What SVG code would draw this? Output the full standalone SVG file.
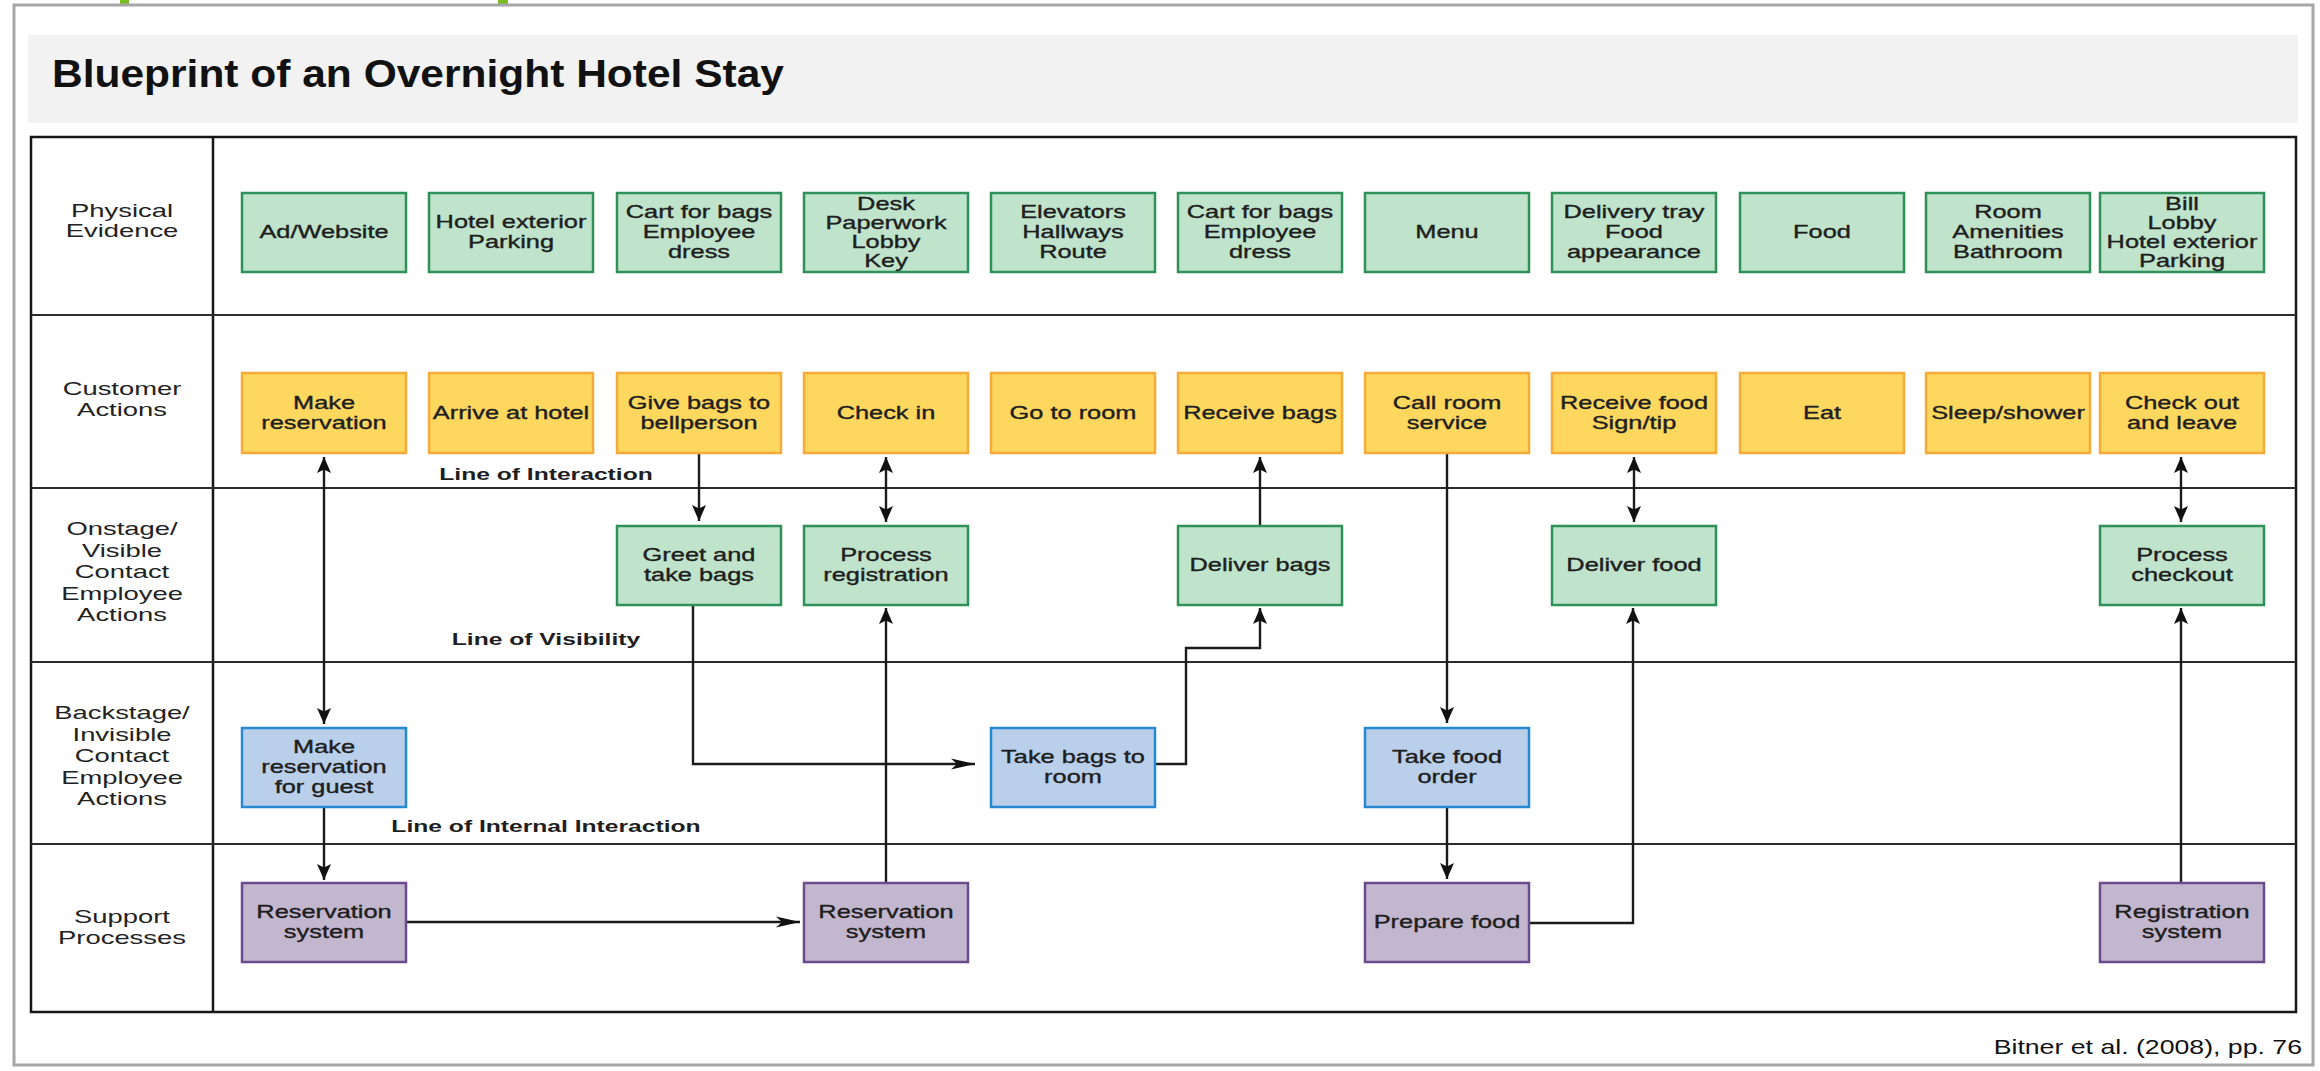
<svg xmlns="http://www.w3.org/2000/svg" width="2320" height="1071" viewBox="0 0 2320 1071">
  <style>
    .frame { fill: #ffffff; stroke: #a6a6a6; stroke-width: 3; }
    .band { fill: #f2f2f2; }
    .mark { fill: #78be20; }
    .grid { fill: none; stroke: #161616; stroke-width: 2.5; }
    .row { stroke: #2b2b2b; stroke-width: 2; }
    .n rect { stroke-width: 2.5; }
    .g rect { fill: #bfe3cb; stroke: #2e9158; }
    .y rect { fill: #fed75e; stroke: #f7a93a; }
    .b rect { fill: #b9cfea; stroke: #2689d2; }
    .p rect { fill: #c3b7cf; stroke: #6b4b8c; }
    text { font-family: "Liberation Sans", Arial, Helvetica, sans-serif; }
    .t { font-size: 17.5px; fill: #1e1e1e; stroke: #1e1e1e; stroke-width: 0.35; text-anchor: middle; }
    .lane { font-size: 18.5px; fill: #222222; text-anchor: middle; }
    .ll { font-size: 17px; font-weight: bold; fill: #1e1e1e; text-anchor: middle; }
    .title { font-size: 39px; font-weight: bold; fill: #111111; }
    .src { font-size: 21px; fill: #111111; text-anchor: end; }
    .conn path { fill: none; stroke: #1a1a1a; stroke-width: 2.4; }
  </style>
  <defs>
    <!-- arrowhead for vertical runs -->
    <marker id="av" viewBox="-17 -8 18 16" refX="0" refY="0" markerWidth="18" markerHeight="16" markerUnits="userSpaceOnUse" orient="auto-start-reverse">
      <path d="M0,0 L-16,-7 L-12.5,0 L-16,7 Z" fill="#111111"/>
    </marker>
    <!-- arrowhead for horizontal runs -->
    <marker id="ah" viewBox="-25 -7 26 14" refX="0" refY="0" markerWidth="26" markerHeight="14" markerUnits="userSpaceOnUse" orient="auto">
      <path d="M0,0 L-24,-5.5 L-18,0 L-24,5.5 Z" fill="#111111"/>
    </marker>
  </defs>

  <rect width="2320" height="1071" fill="#ffffff"/>
  <rect class="mark" x="120" y="0" width="9" height="5"/>
  <rect class="mark" x="498" y="0" width="10" height="5"/>
  <rect class="frame" x="14" y="5" width="2299" height="1060"/>

  <!-- title band -->
  <rect class="band" x="28" y="35" width="2270" height="88"/>
  <text class="title" transform="matrix(1.09 0 0 1 52 0)" x="0" y="87">Blueprint of an Overnight Hotel Stay</text>

  <!-- swimlane grid -->
  <g id="grid">
    <rect class="grid" x="31" y="137" width="2265" height="875"/>
    <line class="grid" x1="213" y1="137" x2="213" y2="1012"/>
    <line class="row" x1="31" y1="315" x2="2296" y2="315"/>
    <line class="row" x1="31" y1="488" x2="2296" y2="488"/>
    <line class="row" x1="31" y1="662" x2="2296" y2="662"/>
    <line class="row" x1="31" y1="844" x2="2296" y2="844"/>
  </g>

  <!-- lane labels -->
  <g id="lanes">
    <text class="lane" transform="matrix(1.48 0 0 1 122 0)"><tspan x="0" y="217">Physical</tspan><tspan x="0" y="237">Evidence</tspan></text>
    <text class="lane" transform="matrix(1.48 0 0 1 122 0)"><tspan x="0" y="395">Customer</tspan><tspan x="0" y="416">Actions</tspan></text>
    <text class="lane" transform="matrix(1.48 0 0 1 122 0)"><tspan x="0" y="535">Onstage/</tspan><tspan x="0" y="557">Visible</tspan><tspan x="0" y="578">Contact</tspan><tspan x="0" y="600">Employee</tspan><tspan x="0" y="621">Actions</tspan></text>
    <text class="lane" transform="matrix(1.48 0 0 1 122 0)"><tspan x="0" y="719">Backstage/</tspan><tspan x="0" y="741">Invisible</tspan><tspan x="0" y="762">Contact</tspan><tspan x="0" y="784">Employee</tspan><tspan x="0" y="805">Actions</tspan></text>
    <text class="lane" transform="matrix(1.48 0 0 1 122 0)"><tspan x="0" y="923">Support</tspan><tspan x="0" y="944">Processes</tspan></text>
  </g>

  <!-- boundary line labels -->
  <g id="boundaries">
    <text class="ll" transform="matrix(1.45 0 0 1 546 0)" x="0" y="480">Line of Interaction</text>
    <text class="ll" transform="matrix(1.45 0 0 1 546 0)" x="0" y="645">Line of Visibility</text>
    <text class="ll" transform="matrix(1.45 0 0 1 546 0)" x="0" y="832">Line of Internal Interaction</text>
  </g>

  <!-- connectors -->
  <g id="connectors" class="conn">
    <path d="M324,457 L324,724" marker-start="url(#av)" marker-end="url(#av)"/>
    <path d="M324,807 L324,880" marker-end="url(#av)"/>
    <path d="M407,922 L800,922" marker-end="url(#ah)"/>
    <path d="M886,883 L886,608" marker-end="url(#av)"/>
    <path d="M886,457 L886,522" marker-start="url(#av)" marker-end="url(#av)"/>
    <path d="M699,453 L699,521" marker-end="url(#av)"/>
    <path d="M693,605 L693,764 L975,764" marker-end="url(#ah)"/>
    <path d="M1155,764 L1186,764 L1186,648 L1260,648 L1260,608" marker-end="url(#av)"/>
    <path d="M1260,526 L1260,457" marker-end="url(#av)"/>
    <path d="M1447,453 L1447,723" marker-end="url(#av)"/>
    <path d="M1447,807 L1447,879" marker-end="url(#av)"/>
    <path d="M1529,923 L1633,923 L1633,608" marker-end="url(#av)"/>
    <path d="M1634,457 L1634,522" marker-start="url(#av)" marker-end="url(#av)"/>
    <path d="M2181,457 L2181,522" marker-start="url(#av)" marker-end="url(#av)"/>
    <path d="M2181,883 L2181,608" marker-end="url(#av)"/>
  </g>

  <!-- physical evidence -->
  <g id="pe-ad" class="n g"><rect x="242" y="193" width="164" height="79"/><text class="t" transform="matrix(1.45 0 0 1 324 0)"><tspan x="0" y="238.5">Ad/Website</tspan></text></g>
  <g id="pe-exterior" class="n g"><rect x="429" y="193" width="164" height="79"/><text class="t" transform="matrix(1.45 0 0 1 511 0)"><tspan x="0" y="228.5">Hotel exterior</tspan><tspan x="0" y="248.5">Parking</tspan></text></g>
  <g id="pe-cart1" class="n g"><rect x="617" y="193" width="164" height="79"/><text class="t" transform="matrix(1.45 0 0 1 699 0)"><tspan x="0" y="218.5">Cart for bags</tspan><tspan x="0" y="238.5">Employee</tspan><tspan x="0" y="258.5">dress</tspan></text></g>
  <g id="pe-desk" class="n g"><rect x="804" y="193" width="164" height="79"/><text class="t" transform="matrix(1.45 0 0 1 886 0)"><tspan x="0" y="210">Desk</tspan><tspan x="0" y="229">Paperwork</tspan><tspan x="0" y="248">Lobby</tspan><tspan x="0" y="267">Key</tspan></text></g>
  <g id="pe-elevators" class="n g"><rect x="991" y="193" width="164" height="79"/><text class="t" transform="matrix(1.45 0 0 1 1073 0)"><tspan x="0" y="218.5">Elevators</tspan><tspan x="0" y="238.5">Hallways</tspan><tspan x="0" y="258.5">Route</tspan></text></g>
  <g id="pe-cart2" class="n g"><rect x="1178" y="193" width="164" height="79"/><text class="t" transform="matrix(1.45 0 0 1 1260 0)"><tspan x="0" y="218.5">Cart for bags</tspan><tspan x="0" y="238.5">Employee</tspan><tspan x="0" y="258.5">dress</tspan></text></g>
  <g id="pe-menu" class="n g"><rect x="1365" y="193" width="164" height="79"/><text class="t" transform="matrix(1.45 0 0 1 1447 0)"><tspan x="0" y="238.5">Menu</tspan></text></g>
  <g id="pe-tray" class="n g"><rect x="1552" y="193" width="164" height="79"/><text class="t" transform="matrix(1.45 0 0 1 1634 0)"><tspan x="0" y="218.5">Delivery tray</tspan><tspan x="0" y="238.5">Food</tspan><tspan x="0" y="258.5">appearance</tspan></text></g>
  <g id="pe-food" class="n g"><rect x="1740" y="193" width="164" height="79"/><text class="t" transform="matrix(1.45 0 0 1 1822 0)"><tspan x="0" y="238.5">Food</tspan></text></g>
  <g id="pe-room" class="n g"><rect x="1926" y="193" width="164" height="79"/><text class="t" transform="matrix(1.45 0 0 1 2008 0)"><tspan x="0" y="218.5">Room</tspan><tspan x="0" y="238.5">Amenities</tspan><tspan x="0" y="258.5">Bathroom</tspan></text></g>
  <g id="pe-bill" class="n g"><rect x="2100" y="193" width="164" height="79"/><text class="t" transform="matrix(1.45 0 0 1 2182 0)"><tspan x="0" y="210">Bill</tspan><tspan x="0" y="229">Lobby</tspan><tspan x="0" y="248">Hotel exterior</tspan><tspan x="0" y="267">Parking</tspan></text></g>

  <!-- customer actions -->
  <g id="ca-reserve" class="n y"><rect x="242" y="373" width="164" height="80"/><text class="t" transform="matrix(1.45 0 0 1 324 0)"><tspan x="0" y="409">Make</tspan><tspan x="0" y="429">reservation</tspan></text></g>
  <g id="ca-arrive" class="n y"><rect x="429" y="373" width="164" height="80"/><text class="t" transform="matrix(1.45 0 0 1 511 0)"><tspan x="0" y="419">Arrive at hotel</tspan></text></g>
  <g id="ca-givebags" class="n y"><rect x="617" y="373" width="164" height="80"/><text class="t" transform="matrix(1.45 0 0 1 699 0)"><tspan x="0" y="409">Give bags to</tspan><tspan x="0" y="429">bellperson</tspan></text></g>
  <g id="ca-checkin" class="n y"><rect x="804" y="373" width="164" height="80"/><text class="t" transform="matrix(1.45 0 0 1 886 0)"><tspan x="0" y="419">Check in</tspan></text></g>
  <g id="ca-goroom" class="n y"><rect x="991" y="373" width="164" height="80"/><text class="t" transform="matrix(1.45 0 0 1 1073 0)"><tspan x="0" y="419">Go to room</tspan></text></g>
  <g id="ca-receivebags" class="n y"><rect x="1178" y="373" width="164" height="80"/><text class="t" transform="matrix(1.45 0 0 1 1260 0)"><tspan x="0" y="419">Receive bags</tspan></text></g>
  <g id="ca-callservice" class="n y"><rect x="1365" y="373" width="164" height="80"/><text class="t" transform="matrix(1.45 0 0 1 1447 0)"><tspan x="0" y="409">Call room</tspan><tspan x="0" y="429">service</tspan></text></g>
  <g id="ca-receivefood" class="n y"><rect x="1552" y="373" width="164" height="80"/><text class="t" transform="matrix(1.45 0 0 1 1634 0)"><tspan x="0" y="409">Receive food</tspan><tspan x="0" y="429">Sign/tip</tspan></text></g>
  <g id="ca-eat" class="n y"><rect x="1740" y="373" width="164" height="80"/><text class="t" transform="matrix(1.45 0 0 1 1822 0)"><tspan x="0" y="419">Eat</tspan></text></g>
  <g id="ca-sleep" class="n y"><rect x="1926" y="373" width="164" height="80"/><text class="t" transform="matrix(1.45 0 0 1 2008 0)"><tspan x="0" y="419">Sleep/shower</tspan></text></g>
  <g id="ca-checkout" class="n y"><rect x="2100" y="373" width="164" height="80"/><text class="t" transform="matrix(1.45 0 0 1 2182 0)"><tspan x="0" y="409">Check out</tspan><tspan x="0" y="429">and leave</tspan></text></g>

  <!-- onstage contact employee actions -->
  <g id="on-greet" class="n g"><rect x="617" y="526" width="164" height="79"/><text class="t" transform="matrix(1.45 0 0 1 699 0)"><tspan x="0" y="561.5">Greet and</tspan><tspan x="0" y="581.5">take bags</tspan></text></g>
  <g id="on-registration" class="n g"><rect x="804" y="526" width="164" height="79"/><text class="t" transform="matrix(1.45 0 0 1 886 0)"><tspan x="0" y="561.5">Process</tspan><tspan x="0" y="581.5">registration</tspan></text></g>
  <g id="on-deliverbags" class="n g"><rect x="1178" y="526" width="164" height="79"/><text class="t" transform="matrix(1.45 0 0 1 1260 0)"><tspan x="0" y="571.5">Deliver bags</tspan></text></g>
  <g id="on-deliverfood" class="n g"><rect x="1552" y="526" width="164" height="79"/><text class="t" transform="matrix(1.45 0 0 1 1634 0)"><tspan x="0" y="571.5">Deliver food</tspan></text></g>
  <g id="on-checkout" class="n g"><rect x="2100" y="526" width="164" height="79"/><text class="t" transform="matrix(1.45 0 0 1 2182 0)"><tspan x="0" y="561.5">Process</tspan><tspan x="0" y="581.5">checkout</tspan></text></g>

  <!-- backstage contact employee actions -->
  <g id="bk-reserve" class="n b"><rect x="242" y="728" width="164" height="79"/><text class="t" transform="matrix(1.45 0 0 1 324 0)"><tspan x="0" y="753.5">Make</tspan><tspan x="0" y="773.5">reservation</tspan><tspan x="0" y="793.5">for guest</tspan></text></g>
  <g id="bk-takebags" class="n b"><rect x="991" y="728" width="164" height="79"/><text class="t" transform="matrix(1.45 0 0 1 1073 0)"><tspan x="0" y="763.5">Take bags to</tspan><tspan x="0" y="783.5">room</tspan></text></g>
  <g id="bk-foodorder" class="n b"><rect x="1365" y="728" width="164" height="79"/><text class="t" transform="matrix(1.45 0 0 1 1447 0)"><tspan x="0" y="763.5">Take food</tspan><tspan x="0" y="783.5">order</tspan></text></g>

  <!-- support processes -->
  <g id="sp-reservation1" class="n p"><rect x="242" y="883" width="164" height="79"/><text class="t" transform="matrix(1.45 0 0 1 324 0)"><tspan x="0" y="918.5">Reservation</tspan><tspan x="0" y="938.5">system</tspan></text></g>
  <g id="sp-reservation2" class="n p"><rect x="804" y="883" width="164" height="79"/><text class="t" transform="matrix(1.45 0 0 1 886 0)"><tspan x="0" y="918.5">Reservation</tspan><tspan x="0" y="938.5">system</tspan></text></g>
  <g id="sp-preparefood" class="n p"><rect x="1365" y="883" width="164" height="79"/><text class="t" transform="matrix(1.45 0 0 1 1447 0)"><tspan x="0" y="928.5">Prepare food</tspan></text></g>
  <g id="sp-registration" class="n p"><rect x="2100" y="883" width="164" height="79"/><text class="t" transform="matrix(1.45 0 0 1 2182 0)"><tspan x="0" y="918.5">Registration</tspan><tspan x="0" y="938.5">system</tspan></text></g>

  <!-- source note -->
  <text class="src" transform="matrix(1.27 0 0 1 2302 0)" x="0" y="1054">Bitner et al. (2008), pp. 76</text>
</svg>
